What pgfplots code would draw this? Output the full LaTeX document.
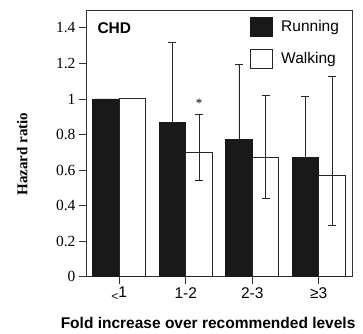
\documentclass[border=0pt]{standalone}
\usepackage{fontspec}
\setmainfont{Liberation Sans}
\newfontfamily\timesfont{Liberation Serif}
\usepackage{pgfplots}
\pgfplotsset{compat=1.18}
\begin{document}
\begin{tikzpicture}
\begin{axis}[
  scale only axis, width=266pt, height=266.7pt,
  xmin=-0.5, xmax=3.5, ymin=0, ymax=1.5,
  ybar=0pt, bar width=26.6pt,
  xtick={0,1,2,3},
  xticklabels={{\raisebox{-3pt}{\fontsize{12}{12}\selectfont<}1},1-2,2-3,≥3},
  ytick={0,0.2,0.4,0.6,0.8,1,1.2,1.4},
  yticklabels={0,0.2,0.4,0.6,0.8,1,1.2,1.4},
  tick align=outside, xtick pos=bottom, ytick pos=left,
  major tick length=7pt,
  axis line style={black!80, line width=1pt},
  tick style={black!80, line width=0.8pt},
  xticklabel style={font=\fontsize{15.5}{18}\selectfont},
  yticklabel style={font=\fontsize{15.5}{18}\selectfont\timesfont},
  xlabel={Fold increase over recommended levels},
  xlabel style={font=\fontsize{15.5}{18}\selectfont\bfseries, at={(axis description cs:0.459,-0.174)}, anchor=center},
  ylabel={Hazard ratio},
  ylabel style={font=\fontsize{15}{18}\selectfont\bfseries\timesfont, at={(axis description cs:-0.24,0.46)}, anchor=center},
  legend style={at={(0.617,0.974)}, anchor=north west, draw=none, fill=none,
    inner sep=0pt, row sep=12pt, column sep=8pt,
    nodes={inner sep=0pt, font=\fontsize{15.5}{18}\selectfont}},
  legend cell align=left,
  legend image code/.code={\draw[#1] (0pt,-9.5pt) rectangle (22pt,9.5pt);},
  error bars/error bar style={black!85, line width=0.9pt},
  error bars/error mark options={rotate=90, black!85, line width=0.9pt, mark size=4pt},
]
\addplot[fill=black!90, draw=black!90, line width=0.8pt,
  error bars/.cd, y dir=plus, y explicit]
  coordinates {(0,1) (1,0.867) +- (0,0.45) (2,0.772) +- (0,0.42) (3,0.672) +- (0,0.34)};
\addlegendentry{Running}
\addplot[fill=white, draw=black!85, line width=0.9pt,
  error bars/.cd, y dir=both, y explicit]
  coordinates {(0,1) (1,0.70) += (0,0.212) -= (0,0.16) (2,0.67) += (0,0.347) -= (0,0.23) (3,0.567) += (0,0.557) -= (0,0.277)};
\addlegendentry{Walking}
\node[font=\fontsize{15.5}{18}\selectfont\bfseries, anchor=west] at (rel axis cs:0.03,0.9325) {CHD};
\node[font=\fontsize{13}{13}\selectfont\timesfont] at (axis cs:1.2,0.975) {*};
\end{axis}
\pgfresetboundingbox
\path ([shift={(-86pt,-56.3pt)}]current axis.south west) rectangle ([shift={(11pt,10pt)}]current axis.north east);
\end{tikzpicture}
\end{document}
